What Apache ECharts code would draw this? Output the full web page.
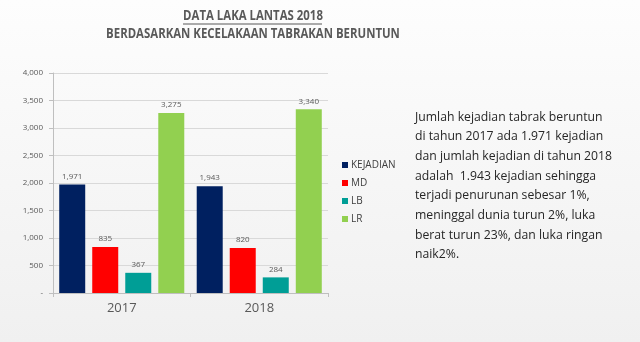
<!DOCTYPE html>
<html>
<head>
<meta charset="utf-8">
<script src="https://cdn.jsdelivr.net/npm/echarts@6/dist/echarts.min.js"></script>
<style>
  html, body { margin: 0; padding: 0; }
  #chart { width: 640px; height: 342px; }
</style>
</head>
<body>
<div id="chart"></div>
<script>
// Road accident data (tabrakan beruntun), 2017 vs 2018
const years = ['2017', '2018'];
const seriesNames = ['KEJADIAN', 'MD', 'LB', 'LR'];
const kejadian = [1971, 1943];
const md = [835, 820];
const lb = [367, 284];
const lr = [3275, 3340];
const seriesColors = ['#002060', '#FF0000', '#009E96', '#92D050'];

const titleLine1 = 'DATA LAKA LANTAS 2018';
const titleLine2 = 'BERDASARKAN KECELAKAAN TABRAKAN BERUNTUN';
const noteLines = [
  'Jumlah kejadian tabrak beruntun',
  'di tahun 2017 ada 1.971 kejadian',
  'dan jumlah kejadian di tahun 2018',
  'adalah  1.943 kejadian sehingga',
  'terjadi penurunan sebesar 1%,',
  'meninggal dunia turun 2%, luka',
  'berat turun 23%, dan luka ringan',
  'naik2%.'
];

const valuesBySeries = [kejadian, md, lb, lr];
const font = 'Open Sans, Noto Sans, sans-serif';

const chart = echarts.init(document.getElementById('chart'));

const series = seriesNames.map((name, i) => ({
  name: name,
  type: 'bar',
  data: valuesBySeries[i],
  barWidth: 26,
  barGap: '27%',
  itemStyle: { color: seriesColors[i] },
  label: {
    show: true,
    position: 'top',
    distance: 4,
    fontSize: 8,
    color: '#595959',
    fontFamily: font,
    formatter: p => p.value.toLocaleString('en-US')
  }
}));

// Condensed heading text: bold face squeezed horizontally
function heading(text, cx, cy, sx) {
  return {
    type: 'text',
    x: cx, y: cy,
    scaleX: sx,
    style: {
      text: text,
      align: 'center',
      verticalAlign: 'middle',
      fontSize: 15,
      fontWeight: 'bold',
      fill: '#595959',
      fontFamily: font
    }
  };
}

chart.setOption({
  backgroundColor: new echarts.graphic.LinearGradient(0, 0, 0, 1, [
    { offset: 0, color: '#fdfdfd' },
    { offset: 1, color: '#f0f0f0' }
  ]),
  animation: false,
  graphic: [
    heading(titleLine1, 253, 16, 0.76),
    {
      type: 'line',
      shape: { x1: 183, y1: 24, x2: 322, y2: 24 },
      style: { stroke: '#595959', lineWidth: 1 }
    },
    heading(titleLine2, 253, 34, 0.76),
    {
      type: 'text',
      x: 415, y: 107,
      scaleX: 0.94,
      style: {
        text: noteLines.join('\n'),
        fontSize: 13,
        lineHeight: 19.7,
        fill: '#262626',
        fontFamily: font
      }
    }
  ],
  legend: {
    orient: 'vertical',
    left: 337, top: 155,
    itemWidth: 6, itemHeight: 6,
    itemGap: 8,
    icon: 'rect',
    textStyle: { fontSize: 10, color: '#404040', fontFamily: font, padding: [0, 0, 0, -2] },
    data: seriesNames
  },
  grid: { left: 53, right: 312, top: 73, bottom: 49 },
  xAxis: {
    type: 'category',
    data: years,
    axisLine: { lineStyle: { color: '#bfbfbf' } },
    axisTick: { show: true, length: 4, lineStyle: { color: '#bfbfbf' } },
    axisLabel: { fontSize: 13, color: '#595959', fontFamily: font, margin: 9 }
  },
  yAxis: {
    type: 'value',
    min: 0, max: 4000, interval: 500,
    axisLine: { show: true, lineStyle: { color: '#bfbfbf' } },
    axisTick: { show: true, length: 4, lineStyle: { color: '#bfbfbf' } },
    splitLine: { lineStyle: { color: '#d9d9d9' } },
    axisLabel: {
      fontSize: 8, color: '#595959', fontFamily: font, margin: 10,
      formatter: v => v === 0 ? '-' : v.toLocaleString('en-US')
    }
  },
  series: series
});
</script>
</body>
</html>
